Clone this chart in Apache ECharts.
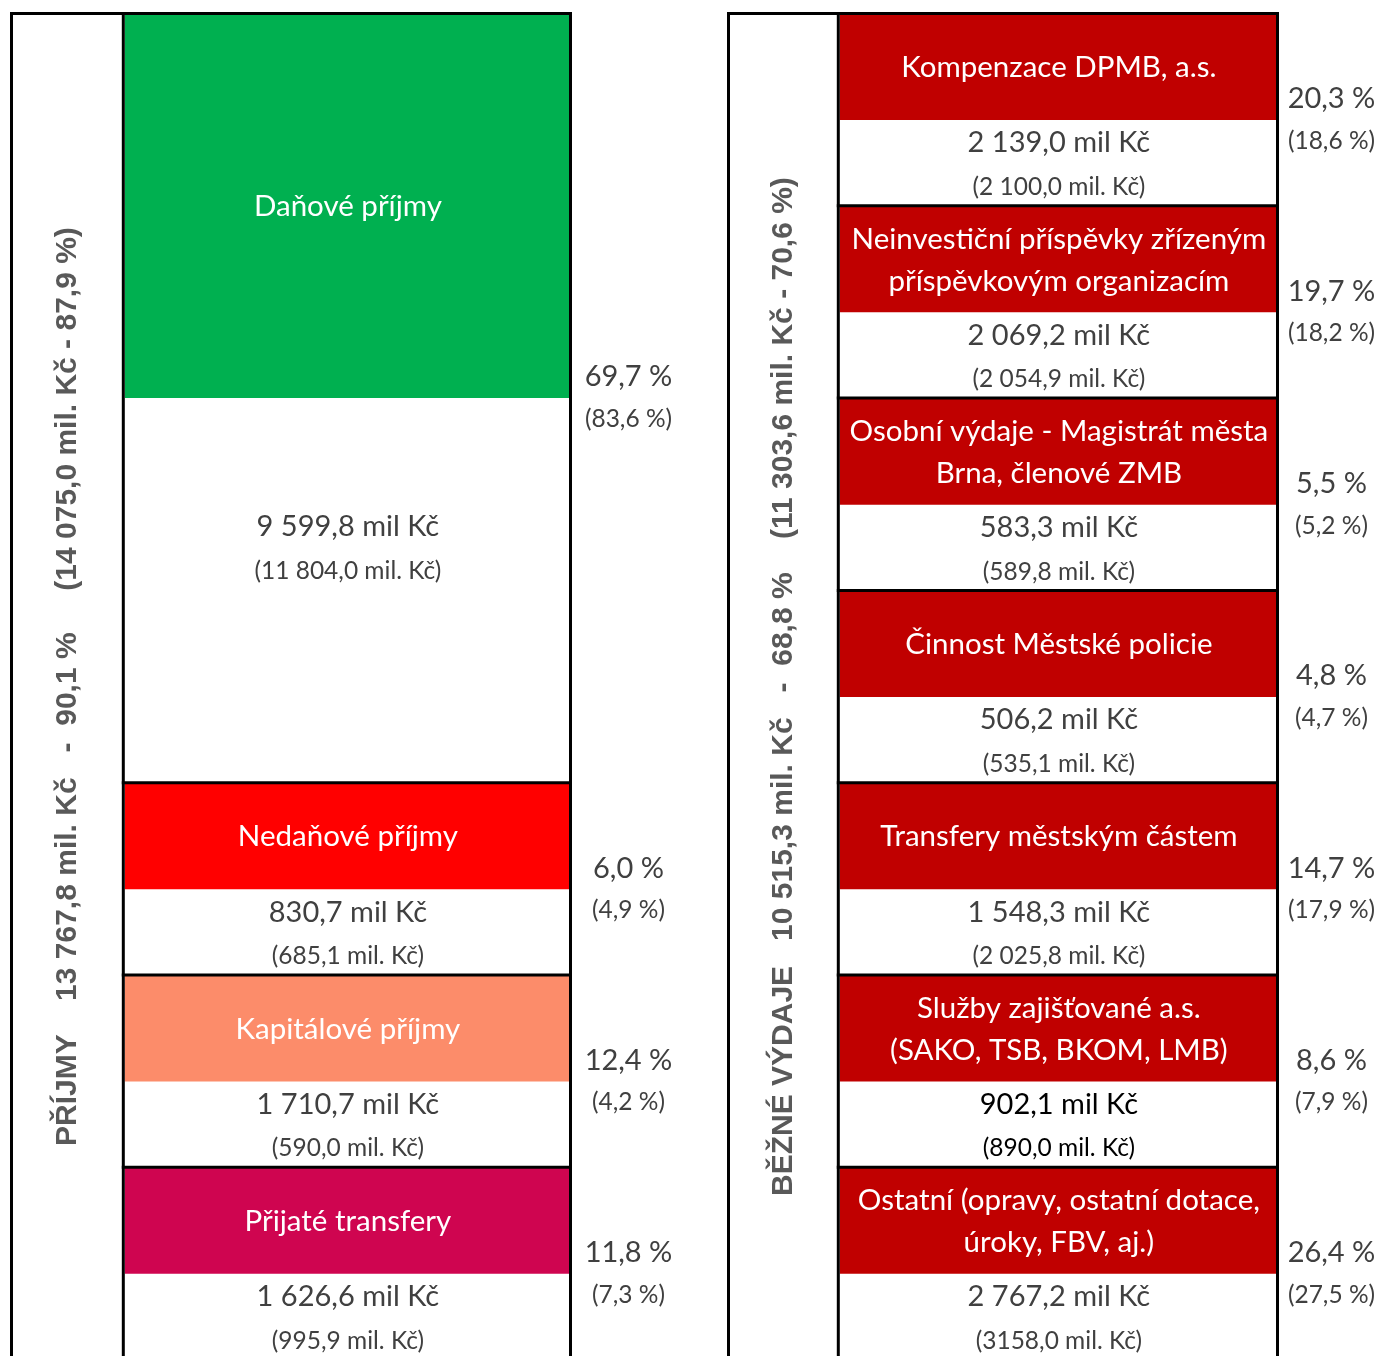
<!DOCTYPE html>
<html>
<head>
<meta charset="utf-8">
<script src="https://cdn.jsdelivr.net/npm/echarts@6/dist/echarts.min.js"></script>
<style>
  html, body { margin: 0; padding: 0; background: #fff; }
  #chart { width: 1380px; height: 1356px; }
</style>
</head>
<body>
<div id="chart"></div>
<script>
// příjmy
const incomeNames = ['Daňové příjmy', 'Nedaňové příjmy', 'Kapitálové příjmy', 'Přijaté transfery']
const incomeRows = [4, 1, 1, 1]
const incomeValues = [9599.8, 830.7, 1710.7, 1626.6]
const incomePrev = [11804.0, 685.1, 590.0, 995.9]
const incomeShare = [69.7, 6.0, 12.4, 11.8]
const incomeSharePrev = [83.6, 4.9, 4.2, 7.3]
const incomeTotal = [13767.8, 90.1]
const incomeTotalPrev = [14075.0, 87.9]

// běžné výdaje
const expenseNames = [
  'Kompenzace DPMB, a.s.',
  'Neinvestiční příspěvky zřízeným\npříspěvkovým organizacím',
  'Osobní výdaje - Magistrát města\nBrna, členové ZMB',
  'Činnost Městské policie',
  'Transfery městským částem',
  'Služby zajišťované a.s.\n(SAKO, TSB, BKOM, LMB)',
  'Ostatní (opravy, ostatní dotace,\núroky, FBV, aj.)',
]
const expenseRows = [1, 1, 1, 1, 1, 1, 1]
const expenseValues = [2139.0, 2069.2, 583.3, 506.2, 1548.3, 902.1, 2767.2]
const expensePrev = [2100.0, 2054.9, 589.8, 535.1, 2025.8, 890.0, 3158.0]
const expenseShare = [20.3, 19.7, 5.5, 4.8, 14.7, 8.6, 26.4]
const expenseSharePrev = [18.6, 18.2, 5.2, 4.7, 17.9, 7.9, 27.5]
const expenseTotal = [10515.3, 68.8]
const expenseTotalPrev = [11303.6, 70.6]

const incomePalette = ['#00B050', '#FF0000', '#FC8C6A', '#CF0550']
const expenseColor = '#C00000'

const FONT = 'Lato'
// one row of the table is ~192 px high, the last one runs off the page
const slotPx = 192.3
const gridTop = 13.5
const gridHeight = 1340

const fmt = (v, group = true) => {
  const [i, d] = v.toFixed(1).split('.')
  return (group ? i.replace(/\B(?=(\d{3})+(?!\d))/g, ' ') : i) + ',' + d
}
const pct = v => v.toFixed(1).replace('.', ',') + ' %'

// start slot of every block from the row spans
const toSlots = rows => {
  let acc = 0
  return rows.map((r) => {
    const s = [acc, r]
    acc += r
    return s
  })
}
const line = (x1, y1, x2, y2) => ({
  type: 'line',
  shape: { x1, y1, x2, y2 },
  style: { stroke: '#000', lineWidth: 3 },
})

const blockRenderer = (cfg) => {
  return (params, api) => {
    const i = params.dataIndex
    const start = api.value(0)
    const span = api.value(1)
    const head = span > 1 ? span / 2 : 0.554
    const tl = api.coord([0.2, start])
    const br = api.coord([1, start + span])
    const yb = api.coord([1, start + head])[1]
    const x0 = tl[0]
    const x1 = br[0]
    const y0 = tl[1]
    const y1 = br[1]
    const cx = (x0 + x1) / 2 + 1
    const valY = yb + (span > 1 ? 129 : 23)
    const ink = cfg.darkRows.includes(i) ? '#000' : '#404040'
    // the source table writes one of the old amounts without the thousands space
    const prevText = fmt(cfg.prev[i], !cfg.ungrouped.includes(i))
    return {
      type: 'group',
      children: [
        {
          type: 'rect',
          shape: { x: x0 + 1.5, y: y0, width: x1 - x0 - 3, height: yb - y0 },
          style: { fill: cfg.color(i) },
        },
        line(x0 - 1.5, y0, x1 + 1.5, y0),
        line(x0, y0, x0, y1),
        line(x1, y0, x1, y1),
        {
          type: 'text',
          x: cx,
          y: (y0 + yb) / 2 + 1,
          style: {
            text: cfg.names[i],
            fill: '#fff',
            font: `29.5px ${FONT}`,
            align: 'center',
            verticalAlign: 'middle',
            lineHeight: 42,
          },
        },
        {
          type: 'text',
          x: cx,
          y: valY,
          style: { text: `${fmt(cfg.values[i])} mil Kč`, fill: ink, font: `29px ${FONT}`, align: 'center', verticalAlign: 'middle' },
        },
        {
          type: 'text',
          x: cx,
          y: valY + 44,
          style: { text: `(${prevText} mil. Kč)`, fill: ink, font: `24.5px ${FONT}`, align: 'center', verticalAlign: 'middle' },
        },
        {
          type: 'text',
          x: x1 + cfg.pctOffset,
          y: yb - 21,
          style: { text: pct(cfg.share[i]), fill: '#404040', font: `29px ${FONT}`, align: 'center', verticalAlign: 'middle' },
        },
        {
          type: 'text',
          x: x1 + cfg.pctOffset,
          y: yb + 21,
          style: { text: `(${pct(cfg.sharePrev[i])})`, fill: '#404040', font: `24.5px ${FONT}`, align: 'center', verticalAlign: 'middle' },
        },
      ],
    }
  }
}

const titleRenderer = text => (params, api) => {
  const total = api.value(1)
  const p = api.coord([0.1, total / 2])
  const a = api.coord([0, 0])
  const b = api.coord([0.2, total])
  return {
    type: 'group',
    children: [
      line(a[0], a[1] - 1.5, a[0], b[1]),
      line(a[0] - 1.5, a[1], b[0], a[1]),
      {
        type: 'text',
        x: p[0],
        y: p[1],
        rotation: Math.PI / 2,
        style: {
          text,
          fill: '#595959',
          font: 'bold 30px "Liberation Sans"',
          align: 'center',
          verticalAlign: 'middle',
        },
      },
    ],
  }
}

const incomeTitle = `PŘÍJMY    ${fmt(incomeTotal[0])} mil. Kč   -  ${pct(incomeTotal[1])}     (${fmt(incomeTotalPrev[0])} mil. Kč - ${pct(incomeTotalPrev[1])})`
const expenseTitle = `BĚŽNÉ VÝDAJE   ${fmt(expenseTotal[0])} mil. Kč   -  ${pct(expenseTotal[1])}    (${fmt(expenseTotalPrev[0])} mil. Kč - ${pct(expenseTotalPrev[1])})`

const chart = echarts.init(document.getElementById('chart'))
const option = {
  backgroundColor: '#fff',
  animation: false,
  grid: [
    { left: 11.5, top: gridTop, width: 559, height: gridHeight },
    { left: 728.5, top: gridTop, width: 549, height: gridHeight },
  ],
  xAxis: [
    { gridIndex: 0, type: 'value', min: 0, max: 1, show: false },
    { gridIndex: 1, type: 'value', min: 0, max: 1, show: false },
  ],
  yAxis: [
    { gridIndex: 0, type: 'value', min: 0, max: gridHeight / slotPx, inverse: true, show: false },
    { gridIndex: 1, type: 'value', min: 0, max: gridHeight / slotPx, inverse: true, show: false },
  ],
  series: [
    {
      type: 'custom',
      name: 'Příjmy',
      xAxisIndex: 0,
      yAxisIndex: 0,
      clip: false,
      data: toSlots(incomeRows),
      renderItem: blockRenderer({
        names: incomeNames,
        values: incomeValues,
        prev: incomePrev,
        share: incomeShare,
        sharePrev: incomeSharePrev,
        color: i => incomePalette[i],
        pctOffset: 58,
        darkRows: [],
        ungrouped: [],
      }),
    },
    {
      type: 'custom',
      name: 'Běžné výdaje',
      xAxisIndex: 1,
      yAxisIndex: 1,
      clip: false,
      data: toSlots(expenseRows),
      renderItem: blockRenderer({
        names: expenseNames,
        values: expenseValues,
        prev: expensePrev,
        share: expenseShare,
        sharePrev: expenseSharePrev,
        color: () => expenseColor,
        pctOffset: 54,
        darkRows: [5],
        ungrouped: [6],
      }),
    },
    {
      type: 'custom',
      xAxisIndex: 0,
      yAxisIndex: 0,
      clip: false,
      data: [[0, incomeRows.reduce((a, b) => a + b, 0)]],
      renderItem: titleRenderer(incomeTitle),
    },
    {
      type: 'custom',
      xAxisIndex: 1,
      yAxisIndex: 1,
      clip: false,
      data: [[0, expenseRows.reduce((a, b) => a + b, 0)]],
      renderItem: titleRenderer(expenseTitle),
    },
  ],
}
chart.setOption(option)
</script>
</body>
</html>
